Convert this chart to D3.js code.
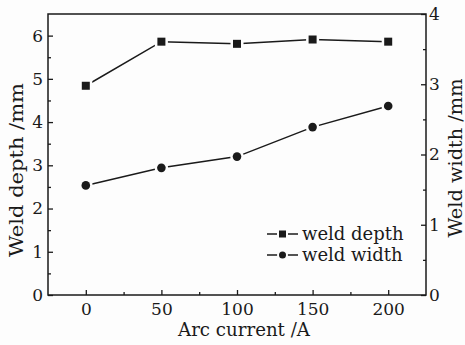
<!DOCTYPE html>
<html><head><meta charset="utf-8">
<script src="https://cdn.jsdelivr.net/npm/d3@7"></script>
<style>body{margin:0;background:#fdfdfd}svg{display:block}</style>
</head><body><svg id="c" width="465" height="345"></svg>
<script>
const currents = [0, 50, 100, 150, 200];
const weldDepth = [4.84, 5.86, 5.81, 5.91, 5.86];
const weldWidth = [1.56, 1.81, 1.97, 2.39, 2.69];
const xTicks = [0, 50, 100, 150, 200];
const leftTicks = [0, 1, 2, 3, 4, 5, 6];
const rightTicks = [0, 1, 2, 3, 4];
const seriesNames = ["weld depth", "weld width"];

const svg = d3.select("#c");
const L = 48, R = 426, T = 14, B = 295;
const ink = "#1a1a1a";
const font = "DejaVu Serif";
const x = d3.scaleLinear().domain([-25, 225]).range([L, R]);
const yL = d3.scaleLinear().domain([0, 6.5]).range([B, T]);
const yR = d3.scaleLinear().domain([0, 4]).range([B, T]);

function styleAxis(g){
  g.selectAll(".domain").remove();
  g.selectAll("line").attr("stroke", ink).attr("stroke-width", 1.3);
  g.selectAll("text").attr("fill", ink).attr("font-family", font).attr("font-size", 17);
}
svg.append("g").attr("transform",`translate(0,${B})`)
  .call(d3.axisBottom(x).tickValues([25, 75, 125, 175]).tickSize(-3).tickFormat(""))
  .call(styleAxis);
svg.append("g").attr("transform",`translate(0,${B})`)
  .call(d3.axisBottom(x).tickValues(xTicks).tickSize(-5).tickPadding(8).tickFormat(d3.format("d")))
  .call(styleAxis);
svg.append("g").attr("transform",`translate(${L},0)`)
  .call(d3.axisLeft(yL).tickValues([0.5,1.5,2.5,3.5,4.5,5.5]).tickSize(-3).tickFormat(""))
  .call(styleAxis);
svg.append("g").attr("transform",`translate(${L},0)`)
  .call(d3.axisLeft(yL).tickValues(leftTicks).tickSize(-5).tickPadding(5).tickFormat(d3.format("d")))
  .call(styleAxis);
svg.append("g").attr("transform",`translate(${R},0)`)
  .call(d3.axisRight(yR).tickValues([0.5,1.5,2.5,3.5]).tickSize(-3).tickFormat(""))
  .call(styleAxis);
svg.append("g").attr("transform",`translate(${R},0)`)
  .call(d3.axisRight(yR).tickValues(rightTicks).tickSize(-5).tickPadding(3).tickFormat(d3.format("d")))
  .call(styleAxis);

svg.append("rect").attr("x",L).attr("y",T).attr("width",R-L).attr("height",B-T)
  .attr("fill","none").attr("stroke",ink).attr("stroke-width",1.5);

svg.append("text").attr("x",244).attr("y",336).attr("text-anchor","middle")
  .attr("font-family",font).attr("font-size",18).attr("fill",ink)
  .attr("textLength",132).attr("lengthAdjust","spacingAndGlyphs").text("Arc current /A");
svg.append("text").attr("transform","translate(23,170) rotate(-90)").attr("text-anchor","middle")
  .attr("font-family",font).attr("font-size",19).attr("fill",ink)
  .attr("textLength",174).attr("lengthAdjust","spacingAndGlyphs").text("Weld depth /mm");
svg.append("text").attr("transform","translate(462,158) rotate(-90)").attr("text-anchor","middle")
  .attr("font-family",font).attr("font-size",18).attr("fill",ink)
  .attr("textLength",159).attr("lengthAdjust","spacingAndGlyphs").text("Weld width /mm");

const line = d3.line();
const dPts = currents.map((c,i)=>[x(c), yL(weldDepth[i])]);
const wPts = currents.map((c,i)=>[x(c), yR(weldWidth[i])]);
[dPts, wPts].forEach(p=>{
  svg.append("path").attr("d", line(p)).attr("fill","none").attr("stroke",ink).attr("stroke-width",1.5);
});
svg.selectAll(".sq").data(dPts).join("rect")
  .attr("x",d=>d[0]-4).attr("y",d=>d[1]-4).attr("width",8).attr("height",8)
  .attr("fill",ink).attr("stroke","#fdfdfd").attr("stroke-width",5).attr("paint-order","stroke");
svg.selectAll(".ci").data(wPts).join("circle")
  .attr("cx",d=>d[0]).attr("cy",d=>d[1]).attr("r",4.3)
  .attr("fill",ink).attr("stroke","#fdfdfd").attr("stroke-width",5).attr("paint-order","stroke");

const legY = [234, 255];
seriesNames.forEach((n,i)=>{
  const g = svg.append("g");
  g.append("line").attr("x1",267).attr("x2",298).attr("y1",legY[i]).attr("y2",legY[i])
    .attr("stroke",ink).attr("stroke-width",1.5);
  if(i===0) g.append("rect").attr("x",282.5-3.5).attr("y",legY[i]-3.5).attr("width",7).attr("height",7)
    .attr("fill",ink).attr("stroke","#fdfdfd").attr("stroke-width",4).attr("paint-order","stroke");
  else g.append("circle").attr("cx",282.5).attr("cy",legY[i]).attr("r",3.5)
    .attr("fill",ink).attr("stroke","#fdfdfd").attr("stroke-width",4).attr("paint-order","stroke");
  g.append("text").attr("x",302).attr("y",legY[i]+5.5).attr("font-family",font).attr("font-size",18)
    .attr("fill",ink).text(n);
});
</script></body></html>
